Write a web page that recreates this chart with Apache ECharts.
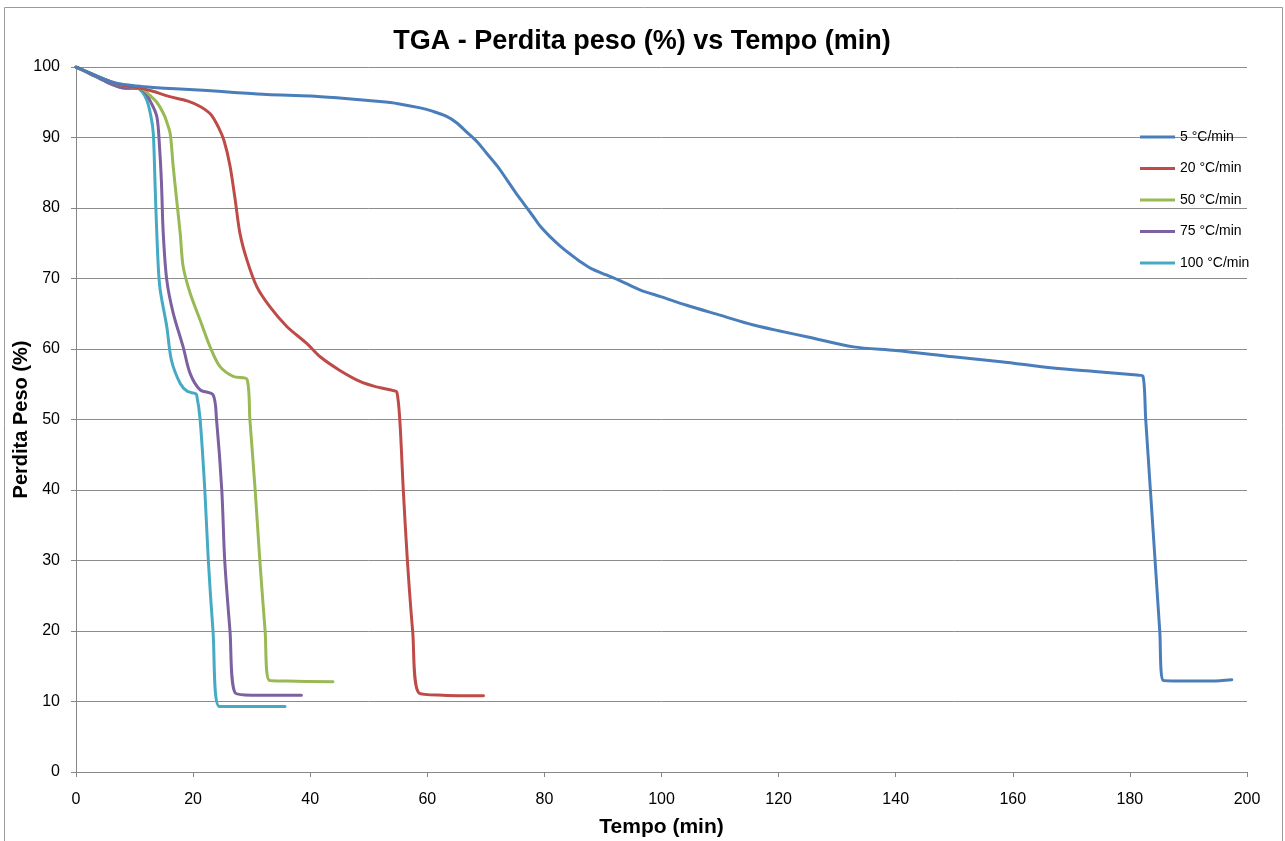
<!DOCTYPE html>
<html>
<head>
<meta charset="utf-8">
<title>TGA - Perdita peso (%) vs Tempo (min)</title>
<script src="https://cdn.jsdelivr.net/npm/echarts@6/dist/echarts.min.js"></script>
<style>
  html, body { margin: 0; padding: 0; background: #ffffff; }
  #chart { width: 1285px; height: 841px; }
</style>
</head>
<body>
<div id="chart"></div>
<script>
// Heating-rate labels (legend order)
const seriesNames = ['5 °C/min', '20 °C/min', '50 °C/min', '75 °C/min', '100 °C/min'];

// 5 °C/min: time (min) and residual weight (%)
const t5 = [0, 2.5, 4.7, 6.9, 10.4, 13.2, 17, 21.7, 27, 32.6, 40, 45, 51.9, 55, 58.8, 61, 63.3, 65, 66.7, 68.5, 70.1, 72, 73.6, 75, 76.4, 78, 79.3, 81, 82.7, 84.5, 86.1, 88, 90.6, 92.9, 96.3, 100, 104.3, 110, 115.7, 120, 125, 132.8, 140, 149.8, 158, 166.9, 174, 181.2, 182.2, 182.7, 183.5, 184.3, 185.1, 185.7, 190, 194, 197.4];
const v5 = [100, 99.1, 98.3, 97.7, 97.3, 97.1, 96.9, 96.7, 96.4, 96.1, 95.9, 95.6, 95.1, 94.8, 94.2, 93.7, 93.0, 92.1, 90.8, 89.4, 87.8, 85.9, 84.0, 82.3, 80.7, 78.9, 77.4, 75.9, 74.6, 73.4, 72.4, 71.4, 70.5, 69.7, 68.4, 67.4, 66.2, 64.8, 63.4, 62.6, 61.7, 60.3, 59.8, 58.9, 58.2, 57.3, 56.8, 56.3, 56.2, 50, 40, 30, 20, 13.0, 12.9, 12.9, 13.1];

// 20 °C/min
const t20 = [0, 2.5, 4.7, 6.9, 8.5, 10.4, 13, 16, 19, 21.2, 23, 24.3, 25.3, 26.3, 27.2, 28, 29.2, 30.9, 33.1, 36, 39.4, 41.7, 45, 48.5, 51, 54.2, 54.8, 55.3, 55.9, 56.6, 57.5, 58.6, 62.7, 69.6];
const v20 = [100, 99.1, 98.3, 97.6, 97.3, 97.1, 96.6, 95.8, 95.2, 94.4, 93.3, 91.5, 89.5, 86.0, 81.1, 76.4, 72.6, 68.8, 66.0, 63.2, 60.8, 58.9, 57.0, 55.4, 54.7, 54.1, 53.9, 50, 40, 30, 20, 11.2, 10.9, 10.8];

// 50 °C/min
const t50 = [0, 2.5, 4.7, 6.9, 8.5, 10.4, 11.5, 12.6, 13.8, 15.0, 15.5, 16.1, 16.6, 17.2, 17.8, 18.3, 19.5, 21.2, 22.9, 24.6, 26.9, 29.2, 29.7, 30.6, 31.4, 32.3, 33, 36, 43.9];
const v50 = [100, 99.1, 98.3, 97.6, 97.3, 97.1, 96.8, 96.0, 95.0, 93.3, 92.2, 90.5, 85.9, 81.1, 76.4, 71.7, 67.9, 64.1, 60.3, 57.5, 56.1, 55.7, 50, 40, 30, 20, 13.0, 12.9, 12.8];

// 75 °C/min
const t75 = [0, 2.5, 4.7, 6.9, 8.5, 10.4, 11.6, 12.6, 13.8, 14.3, 14.6, 14.9, 15.5, 16.6, 18.3, 19.5, 21.2, 23.4, 24.0, 24.9, 25.4, 26.3, 27.2, 30, 38.5];
const v75 = [100, 99.0, 98.1, 97.3, 97.0, 97.0, 96.6, 95.3, 93.0, 88.2, 83.5, 76.4, 69.8, 65.1, 60.3, 56.5, 54.2, 53.5, 50, 40, 30, 20, 11.2, 10.9, 10.9];

// 100 °C/min
const t100 = [0, 2.5, 4.7, 6.9, 8.5, 10.4, 11.3, 12.1, 12.8, 13.2, 13.5, 13.8, 14.3, 15.5, 16.3, 17.8, 19, 20.3, 20.6, 21.2, 22, 22.6, 23.4, 24.5, 28, 35.7];
const v100 = [100, 99.0, 98.1, 97.3, 97.0, 97.0, 96.5, 95.3, 93.0, 90.6, 83.5, 76.4, 68.9, 63.2, 58.4, 55.1, 54.0, 53.7, 53.5, 50, 40, 30, 20, 9.3, 9.3, 9.3];

const colors = ['#4a7ebb', '#be4b48', '#98b954', '#7d60a0', '#46aac5'];
const times = [t5, t20, t50, t75, t100];
const weights = [v5, v20, v50, v75, v100];

const pairs = (ts, vs) => ts.map((t, i) => [t, vs[i]]);

const FONT = '"Liberation Sans", Arial, sans-serif';

const chart = echarts.init(document.getElementById('chart'), null, { renderer: 'canvas' });

chart.setOption({
  animation: false,
  backgroundColor: '#ffffff',
  color: colors,
  title: {
    text: 'TGA - Perdita peso (%) vs Tempo (min)',
    left: 642,
    textAlign: 'center',
    top: 28,
    padding: 0,
    textStyle: { fontFamily: FONT, fontSize: 27, fontWeight: 'bold', color: '#000000' }
  },
  graphic: [{
    type: 'rect',
    shape: { x: 4.5, y: 7.5, width: 1278, height: 850 },
    style: { fill: 'none', stroke: '#9a9a9a', lineWidth: 1 },
    silent: true
  }],
  legend: {
    orient: 'vertical',
    left: 1140,
    top: 128.5,
    padding: 0,
    icon: 'rect',
    itemWidth: 35,
    itemHeight: 3,
    itemGap: 14.5,
    textStyle: { fontFamily: FONT, fontSize: 14, color: '#000000', lineHeight: 17 },
    data: seriesNames
  },
  grid: { left: 76, right: 38, top: 67, bottom: 69, containLabel: false, outerBoundsMode: 'none' },
  xAxis: {
    type: 'value',
    min: 0,
    max: 200,
    interval: 20,
    name: 'Tempo (min)',
    nameLocation: 'middle',
    nameGap: 45,
    nameMoveOverlap: false,
    nameTextStyle: { fontFamily: FONT, fontSize: 21, fontWeight: 'bold', color: '#000000' },
    axisLine: { show: true, lineStyle: { color: '#868686', width: 1 } },
    axisTick: { show: true, inside: false, length: 5, lineStyle: { color: '#868686' } },
    axisLabel: { fontFamily: FONT, fontSize: 16, color: '#000000', margin: 20 },
    splitLine: { show: false }
  },
  yAxis: {
    type: 'value',
    min: 0,
    max: 100,
    interval: 10,
    name: 'Perdita Peso (%)',
    nameLocation: 'middle',
    nameGap: 45,
    nameRotate: 90,
    nameMoveOverlap: false,
    nameTextStyle: { fontFamily: FONT, fontSize: 20, fontWeight: 'bold', color: '#000000' },
    axisLine: { show: true, lineStyle: { color: '#868686', width: 1 } },
    axisTick: { show: true, inside: false, length: 5, lineStyle: { color: '#868686' } },
    axisLabel: { fontFamily: FONT, fontSize: 16, color: '#000000', margin: 16 },
    splitLine: { show: true, lineStyle: { color: '#8c8c8c', width: 1 } }
  },
  series: seriesNames.map((name, k) => ({
    name: name,
    type: 'line',
    data: pairs(times[k], weights[k]),
    showSymbol: false,
    symbol: 'none',
    smooth: 0.3,
    lineStyle: { width: 3, color: colors[k], join: 'round', cap: 'round' },
    itemStyle: { color: colors[k] },
    z: 10 - k
  }))
});
</script>
</body>
</html>
